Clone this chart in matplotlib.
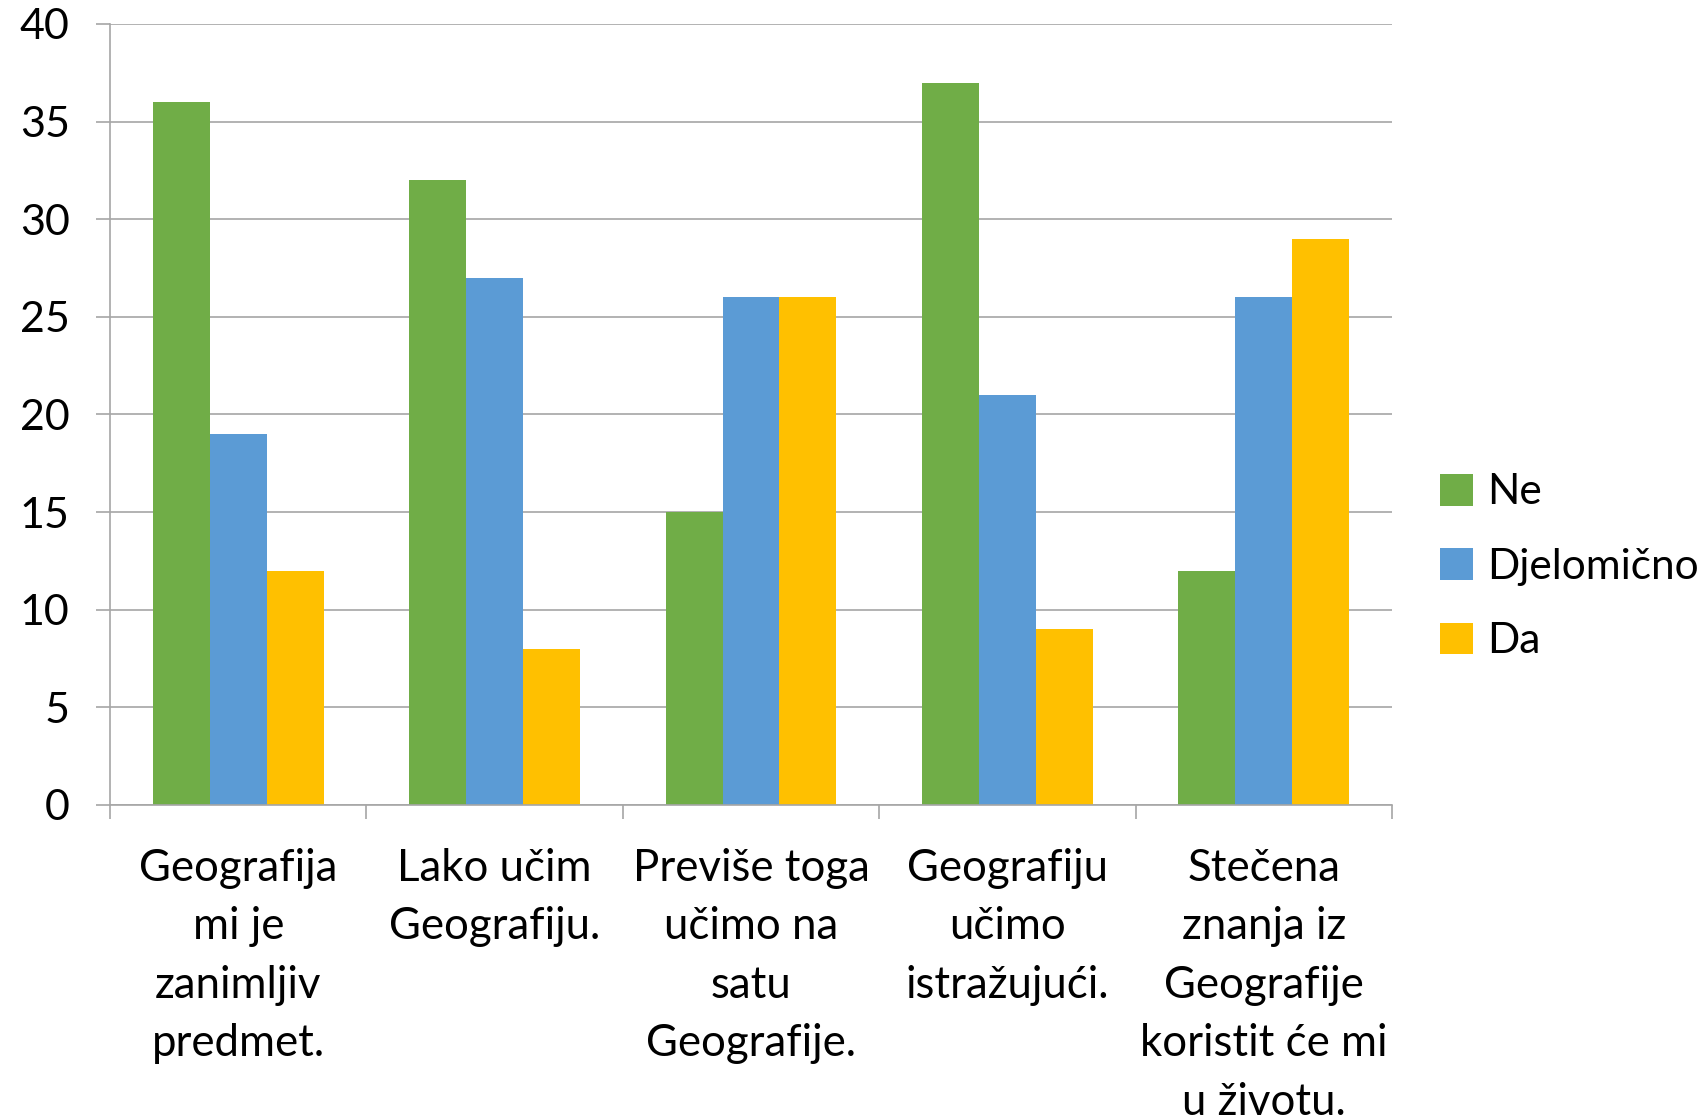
import numpy as np
import matplotlib
matplotlib.use("Agg")
from matplotlib import pyplot as plt

# Data
categories = [
    "Geografija\nmi je\nzanimljiv\npredmet.",
    "Lako učim\nGeografiju.",
    "Previše toga\nučimo na\nsatu\nGeografije.",
    "Geografiju\nučimo\nistražujući.",
    "Stečena\nznanja iz\nGeografije\nkoristit će mi\nu životu.",
]
series_names = ["Ne", "Djelomično", "Da"]
ne = [36, 32, 15, 37, 12]
djelomicno = [19, 27, 26, 21, 26]
da = [12, 8, 26, 9, 29]
yticks = [0, 5, 10, 15, 20, 25, 30, 35, 40]

colors = ["#70AD47", "#5B9BD5", "#FFC000"]
grid_color = "#A6A6A6"

plt.rcParams["font.family"] = ["Lato", "DejaVu Sans"]

# Figure
fig = plt.figure(figsize=(17.08, 11.2), dpi=100)
ax = fig.add_axes([0.0644, 0.2813, 0.7506, 0.6973])

# Bars
x = np.arange(len(categories))
width = 1 / 4.5
for index, (name, values) in enumerate(zip(series_names, [ne, djelomicno, da])):
    ax.bar(x + (index - 1) * width, values, width, color=colors[index],
           label=name, zorder=2)

# Axes
ax.set_xlim(-0.5, len(categories) - 0.5)
ax.set_ylim(0, 40)
ax.set_yticks(yticks)
ax.set_yticklabels([str(v) for v in yticks], fontsize=31)
ax.set_xticks(np.arange(len(categories) + 1) - 0.5)
ax.set_xticklabels([])
ax.set_xticks(x, minor=True)
ax.set_xticklabels(categories, minor=True, fontsize=31.5, linespacing=1.53)
ax.tick_params(axis="x", which="minor", length=0, pad=31)
ax.tick_params(axis="x", which="major", length=10, width=1.2, color=grid_color)
ax.tick_params(axis="y", length=10, width=1.2, color=grid_color, pad=19)
ax.yaxis.grid(True, color=grid_color, lw=1.2, zorder=0)

for side in ["top", "right"]:
    ax.spines[side].set_visible(False)
for side in ["left", "bottom"]:
    ax.spines[side].set_color(grid_color)
    ax.spines[side].set_linewidth(1.2)

# Legend
ax.legend(loc="center left", bbox_to_anchor=(1.024, 0.305), frameon=False,
          fontsize=30.5, handlelength=0.78, handleheight=0.78, handletextpad=0.35,
          labelspacing=0.86, borderaxespad=0)

fig.savefig("out.png", dpi=100)
